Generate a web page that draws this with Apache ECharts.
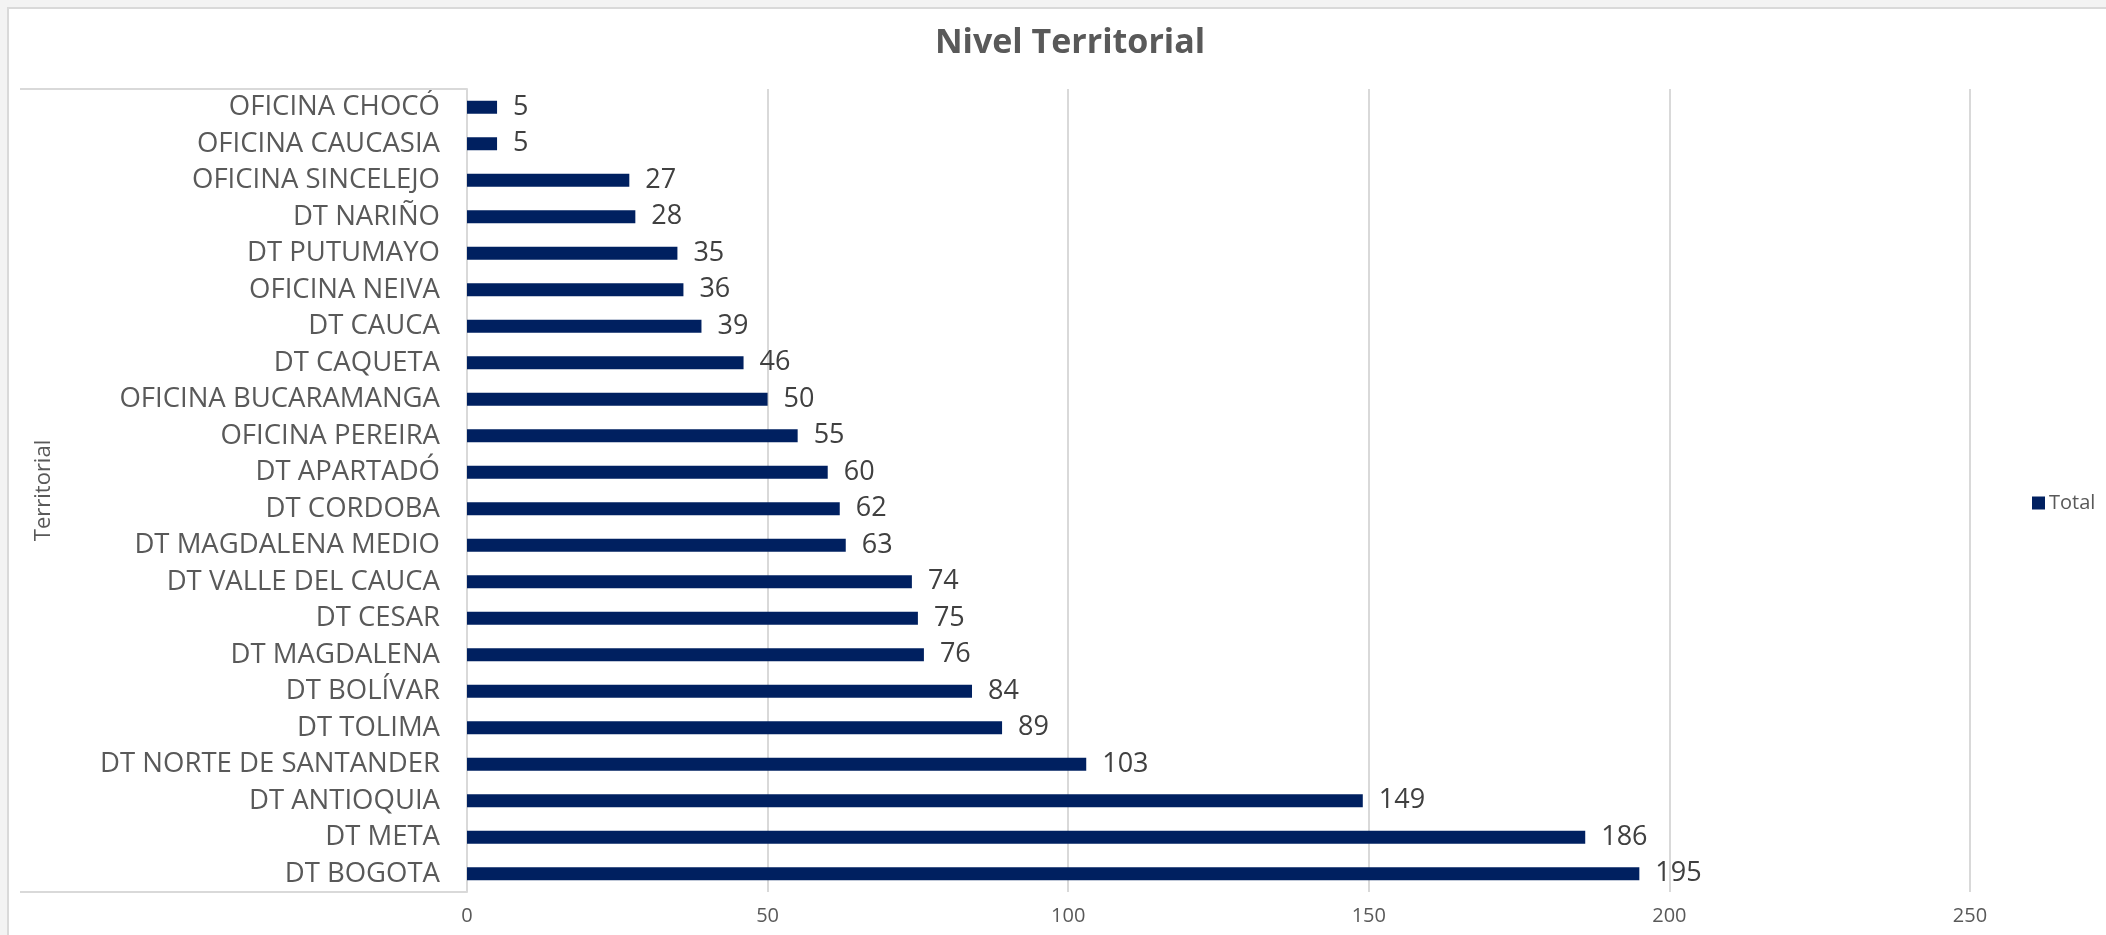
<!DOCTYPE html>
<html>
<head>
<meta charset="utf-8">
<script src="https://cdn.jsdelivr.net/npm/echarts@6/dist/echarts.min.js"></script>
<style>
  html, body { margin: 0; padding: 0; background: #f3f3f3; }
  #chart { width: 2106px; height: 935px; }
</style>
</head>
<body>
<div id="chart"></div>
<script>
const categories = [
  'OFICINA CHOCÓ', 'OFICINA CAUCASIA', 'OFICINA SINCELEJO', 'DT NARIÑO',
  'DT PUTUMAYO', 'OFICINA NEIVA', 'DT CAUCA', 'DT CAQUETA',
  'OFICINA BUCARAMANGA', 'OFICINA PEREIRA', 'DT APARTADÓ', 'DT CORDOBA',
  'DT MAGDALENA MEDIO', 'DT VALLE DEL CAUCA', 'DT CESAR', 'DT MAGDALENA',
  'DT BOLÍVAR', 'DT TOLIMA', 'DT NORTE DE SANTANDER', 'DT ANTIOQUIA',
  'DT META', 'DT BOGOTA'
];
const totals = [5, 5, 27, 28, 35, 36, 39, 46, 50, 55, 60, 62, 63, 74, 75, 76, 84, 89, 103, 149, 186, 195];
const xTicks = [0, 50, 100, 150, 200, 250];
const seriesName = 'Total';
const chartTitle = 'Nivel Territorial';
const axisName = 'Territorial';

const FONT = '"Open Sans", "Noto Sans", sans-serif';
const GRID = { left: 467, right: 136, top: 89, bottom: 43 };
const W = 2106, H = 935;
const boxLeft = 20;
const lineColor = '#d9d9d9';

const chart = echarts.init(document.getElementById('chart'), null, { renderer: 'canvas' });
chart.setOption({
  backgroundColor: '#f3f3f3',
  animation: false,
  textStyle: { fontFamily: FONT },
  title: {
    text: chartTitle,
    left: 1065,
    top: 21,
    textAlign: 'center',
    textStyle: { fontFamily: FONT, fontSize: 34, fontWeight: 'bold', color: '#595959' }
  },
  legend: {
    data: [seriesName],
    left: 2027,
    top: 488,
    icon: 'rect',
    itemWidth: 13,
    itemHeight: 13,
    itemGap: 6,
    textStyle: { fontFamily: FONT, fontSize: 20, color: '#595959', padding: [0, 0, 0, -1] }
  },
  graphic: [
    {
      type: 'rect', silent: true, z: -10,
      shape: { x: 8, y: 8, width: W, height: H },
      style: { fill: '#ffffff', stroke: lineColor, lineWidth: 2 }
    },
    {
      type: 'line', silent: true, z: 1,
      shape: { x1: boxLeft, y1: GRID.top, x2: GRID.left, y2: GRID.top },
      style: { stroke: lineColor, lineWidth: 2 }
    },
    {
      type: 'line', silent: true, z: 1,
      shape: { x1: boxLeft, y1: H - GRID.bottom, x2: GRID.left, y2: H - GRID.bottom },
      style: { stroke: lineColor, lineWidth: 2 }
    }
  ],
  grid: { left: GRID.left, right: GRID.right, top: GRID.top, bottom: GRID.bottom, containLabel: false },
  xAxis: {
    type: 'value',
    min: xTicks[0],
    max: xTicks[xTicks.length - 1],
    interval: xTicks[1] - xTicks[0],
    axisLine: { show: false },
    axisTick: { show: false },
    splitLine: { show: true, lineStyle: { color: lineColor, width: 2 } },
    axisLabel: { fontFamily: FONT, fontSize: 20, color: '#595959', margin: 14 }
  },
  yAxis: {
    type: 'category',
    data: categories,
    inverse: true,
    name: axisName,
    nameLocation: 'middle',
    nameRotate: 90,
    nameGap: 412,
    nameTextStyle: { fontFamily: FONT, fontSize: 22, color: '#595959' },
    axisLine: { show: true, lineStyle: { color: lineColor, width: 2 } },
    axisTick: { show: false },
    axisLabel: { fontFamily: FONT, fontSize: 27.5, color: '#595959', margin: 27 }
  },
  series: [{
    name: seriesName,
    type: 'bar',
    data: totals,
    barWidth: 13,
    itemStyle: { color: '#002060' },
    label: {
      show: true,
      position: 'right',
      distance: 16,
      fontFamily: FONT,
      fontSize: 27,
      color: '#404040'
    }
  }]
});
</script>
</body>
</html>
